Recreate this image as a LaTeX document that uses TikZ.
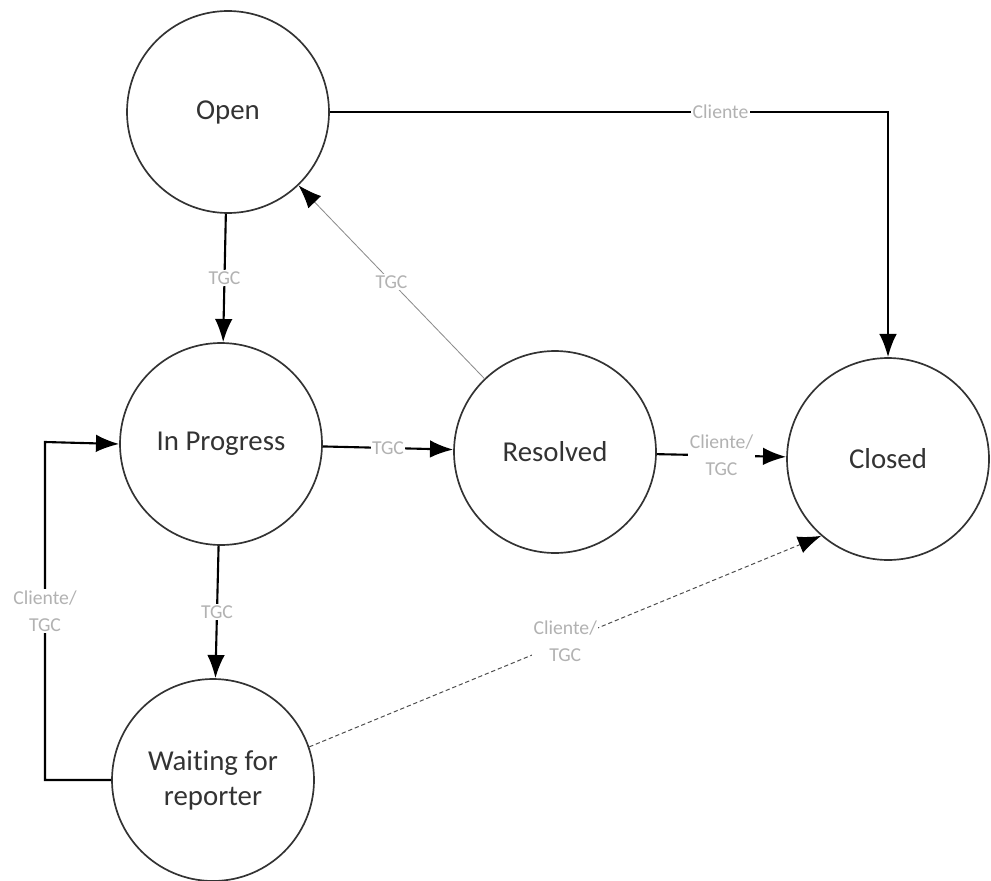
\documentclass[tikz,border=0pt]{standalone}
\usepackage{fontspec}
\setmainfont[Ligatures=NoCommon]{Carlito}
\usepackage{tikz}
\usetikzlibrary{arrows.meta,positioning}

\begin{document}
\begin{tikzpicture}[
    >={Latex[length=5.8mm,width=4.4mm]},
    font=\fontsize{20.5}{25}\selectfont,
    state/.style={
		circle,
		draw=black!80,
		line width=1.2pt,
		minimum size=5.05cm,
		align=center,
		text=black!80
	},
	trans/.style={
		font=\fontsize{14}{19}\selectfont,
		text=black!30,
		fill=white,
		inner sep=1pt,
		align=center
	},
	flow/.style={
		draw=black,
		line width=1.5pt,
		->
	}
  ]
    \useasboundingbox (0,0) rectangle (24.775,-22);

    % the states
    \node [state] (open) at (5.7,-2.8) {Open};
    \node [state] (progress) at (5.525,-11.1) {In Progress};
    \node [state] (resolved) at (13.875,-11.3) {Resolved};
    \node [state] (closed) at (22.2,-11.475) {Closed};
    \node [state] (waiting) at (5.325,-19.5) {Waiting for\\reporter};

    \coordinate (back) at (1.125,-11.05);

    % the transitions
    \draw [flow] (open) -| node [trans, pos=0.35] {Cliente} (closed);
    \draw [flow] (open) -- node [trans] {TGC} (progress);
    \draw [draw=black!45, line width=0.6pt, -{Latex[length=5.8mm,width=4.4mm,black]}]
        (resolved) -- node [trans] {TGC} (open);
    \draw [flow] (progress) -- node [trans] {TGC} (resolved);
    \draw [flow] (resolved) -- node [trans] {Cliente/\\TGC} (closed);
    \draw [flow] (progress) -- node [trans] {TGC} (waiting);
    \draw [flow] (waiting.west) -| node [trans, pos=0.75] {Cliente/\\TGC} (back) -- (progress.west);
    \draw [draw=black!70, densely dashed, line width=0.7pt, -{Latex[length=5.8mm,width=4.4mm,black]}]
        (waiting.19) -- node [trans] {Cliente/\\TGC} (closed.229);

\end{tikzpicture}
\end{document}
